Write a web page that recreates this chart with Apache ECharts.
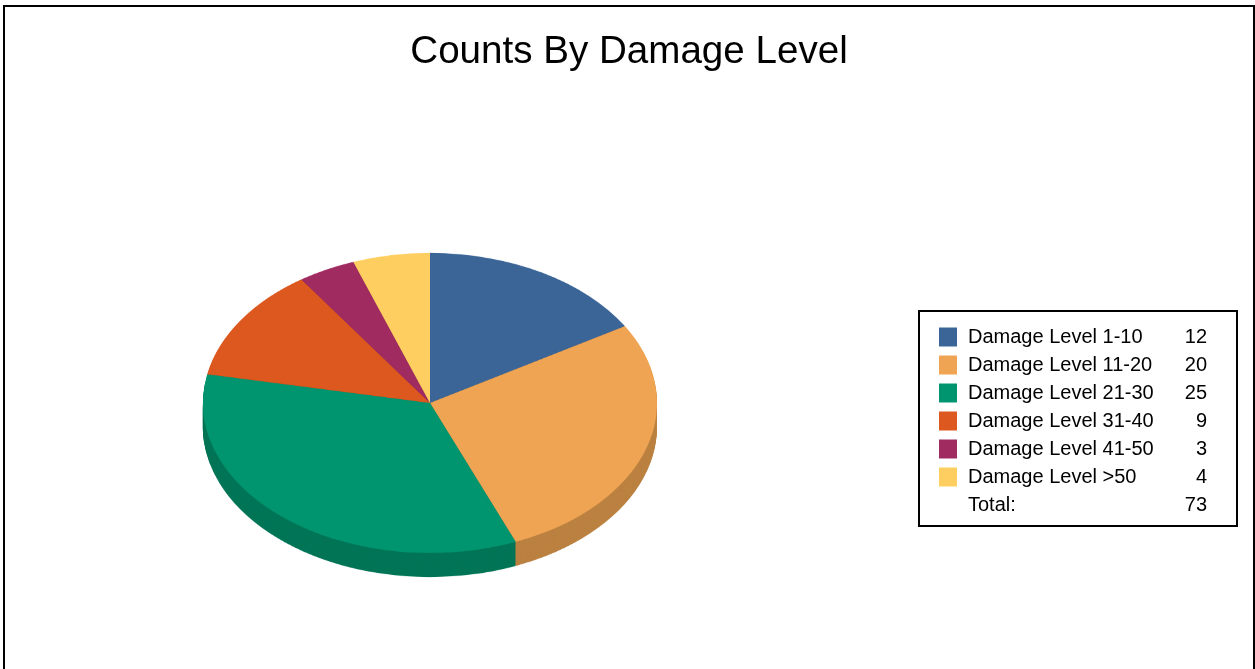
<!DOCTYPE html>
<html>
<head>
<meta charset="utf-8">
<script src="https://cdn.jsdelivr.net/npm/echarts@6/dist/echarts.min.js"></script>
<style>
html,body{margin:0;padding:0;background:#fff;}
#wrap{position:relative;width:1255px;height:669px;overflow:hidden;background:#fff;}
#pie{position:absolute;left:0;top:0;width:1255px;height:1012px;transform-origin:0 0;}
#over{position:absolute;left:0;top:0;width:1255px;height:669px;}
</style>
</head>
<body>
<div id="wrap"><div id="pie"></div><div id="over"></div></div>
<script>
// ---- data ----
const categories = ['Damage Level 1-10','Damage Level 11-20','Damage Level 21-30','Damage Level 31-40','Damage Level 41-50','Damage Level >50'];
const counts = [12, 20, 25, 9, 3, 4];
const colors = ['#3b6597','#eea452','#00956e','#dc581f','#a02b61','#fecf60'];
const titleText = 'Counts By Damage Level';
const totalLabel = 'Total:';

// ---- layout ----
const FONT = '"Liberation Sans", Arial, sans-serif';
const tilt = 150 / 227;          // vertical squash of the pie
const cx = 430, cy = 403, rx = 227;
const depthPx = 24;              // visible thickness of the pie
document.getElementById('pie').style.transform = 'scaleY(' + tilt + ')';

function darken(hex, f) {
  const n = parseInt(hex.slice(1), 16);
  const r = Math.round(((n >> 16) & 255) * f), g = Math.round(((n >> 8) & 255) * f), b = Math.round((n & 255) * f);
  return 'rgb(' + r + ',' + g + ',' + b + ')';
}

function pieLayer(offset, shade, z) {
  return {
    type: 'pie',
    silent: true,
    animation: false,
    startAngle: 90,
    clockwise: true,
    radius: [0, rx],
    center: [cx, cy / tilt + offset / tilt],
    label: { show: false },
    labelLine: { show: false },
    emphasis: { disabled: true },
    z: z,
    data: categories.map((c, i) => ({
      name: c, value: counts[i],
      itemStyle: { color: shade === 1 ? colors[i] : darken(colors[i], shade), borderWidth: 0 }
    }))
  };
}

const layers = [];
for (let d = depthPx; d >= 1; d -= 1) layers.push(pieLayer(d, 0.785, 1));
layers.push(pieLayer(0, 1, 2));

const pieChart = echarts.init(document.getElementById('pie'), null, { renderer: 'canvas' });
pieChart.setOption({ animation: false, series: layers });

// ---- overlay: title, legend, frame ----
const total = counts.reduce((a, b) => a + b, 0);
const over = echarts.init(document.getElementById('over'), null, { renderer: 'canvas' });
over.setOption({
  animation: false,
  title: {
    text: titleText, left: 624, top: 28, textAlign: 'center',
    textStyle: { fontFamily: FONT, fontSize: 38.6, fontWeight: 'normal', color: '#000' }
  },
  legend: {
    orient: 'vertical', left: 939, top: 327,
    icon: 'rect', itemWidth: 18, itemHeight: 19, itemGap: 8,
    selectedMode: false, padding: 0,
    data: categories,
    formatter: function (name) {
      const i = categories.indexOf(name);
      return '{n|' + name + '}{v|' + counts[i] + '}';
    },
    textStyle: {
      fontFamily: FONT, fontSize: 20, color: '#000', lineHeight: 20,
      rich: {
        n: { fontFamily: FONT, fontSize: 20, width: 200, padding: [0, 0, 0, 6], lineHeight: 20 },
        v: { fontFamily: FONT, fontSize: 20, width: 39, align: 'right', lineHeight: 20 }
      }
    }
  },
  series: [{
    type: 'pie', radius: [0, 0], center: [-100, -100], silent: true,
    label: { show: false }, labelLine: { show: false },
    data: categories.map((c, i) => ({ name: c, value: counts[i], itemStyle: { color: colors[i] } }))
  }],
  graphic: [
    { type: 'rect', shape: { x: 4, y: 6, width: 1250, height: 700 }, style: { fill: 'none', stroke: '#000', lineWidth: 2 }, silent: true },
    { type: 'rect', shape: { x: 919, y: 311, width: 318, height: 215 }, style: { fill: 'none', stroke: '#000', lineWidth: 2 }, silent: true },
    { type: 'text', x: 968, y: 505, style: { text: totalLabel, font: '20px ' + FONT, fill: '#000', verticalAlign: 'middle', align: 'left' }, silent: true },
    { type: 'text', x: 1207, y: 505, style: { text: String(total), font: '20px ' + FONT, fill: '#000', verticalAlign: 'middle', align: 'right' }, silent: true }
  ]
});
</script>
</body>
</html>
